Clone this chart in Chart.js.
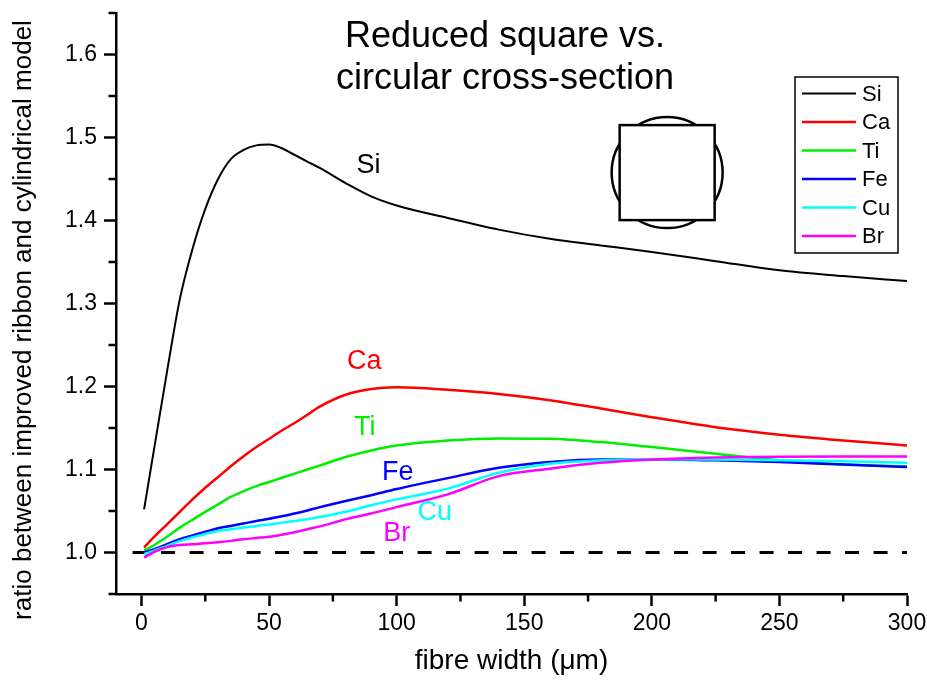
<!DOCTYPE html>
<html lang="en">
<head>
<meta charset="UTF-8">
<title>Reduced square vs. circular cross-section</title>
<script src="https://cdn.jsdelivr.net/npm/chart.js"></script>
<style>
    html, body { margin: 0; padding: 0; background: #fff; }
    .chart-box { width: 927px; height: 682px; position: relative; }
</style>
</head>
<body>
<div class="chart-box"><canvas id="ratioChart"></canvas></div>
<script>
// fibre width in micrometres, shared by all series
const fibreWidth = [1, 5, 10, 15, 20, 25, 30, 35, 40, 45, 50, 55, 60, 65, 70, 80, 90, 100, 120, 140, 160, 180, 200, 225, 250, 275, 300];

const ratioSi = [1.052, 1.126, 1.218, 1.305, 1.366, 1.414, 1.450, 1.474, 1.485, 1.4905, 1.4915, 1.487, 1.479, 1.471, 1.463, 1.445, 1.429, 1.418, 1.403, 1.389, 1.378, 1.370, 1.362, 1.351, 1.340, 1.333, 1.327];
const ratioCa = [1.006, 1.019, 1.034, 1.049, 1.064, 1.078, 1.091, 1.104, 1.116, 1.127, 1.137, 1.147, 1.156, 1.166, 1.176, 1.190, 1.197, 1.199, 1.196, 1.191, 1.1835, 1.1735, 1.163, 1.151, 1.142, 1.135, 1.129];
const ratioTi = [1.002, 1.009, 1.019, 1.030, 1.0395, 1.049, 1.058, 1.067, 1.074, 1.080, 1.085, 1.090, 1.095, 1.100, 1.105, 1.115, 1.123, 1.129, 1.135, 1.1375, 1.137, 1.133, 1.127, 1.119, 1.111, 1.106, 1.104];
const ratioFe = [1.000, 1.004, 1.010, 1.016, 1.0206, 1.025, 1.0293, 1.032, 1.035, 1.038, 1.0406, 1.0437, 1.047, 1.0507, 1.0547, 1.062, 1.069, 1.0764, 1.0896, 1.102, 1.109, 1.112, 1.112, 1.111, 1.109, 1.106, 1.103];
const ratioCu = [0.998, 1.0023, 1.008, 1.0137, 1.0184, 1.0223, 1.026, 1.028, 1.030, 1.032, 1.0337, 1.036, 1.038, 1.040, 1.0427, 1.049, 1.057, 1.064, 1.077, 1.096, 1.107, 1.111, 1.1125, 1.112, 1.111, 1.110, 1.108];
const ratioBr = [0.994, 1.0007, 1.0065, 1.009, 1.010, 1.011, 1.0123, 1.014, 1.016, 1.0175, 1.019, 1.0215, 1.0245, 1.028, 1.0315, 1.040, 1.047, 1.0547, 1.070, 1.092, 1.101, 1.108, 1.112, 1.1145, 1.1155, 1.1156, 1.1156];

const seriesNames = ['Si', 'Ca', 'Ti', 'Fe', 'Cu', 'Br'];
const seriesValues = [ratioSi, ratioCa, ratioTi, ratioFe, ratioCu, ratioBr];
const seriesColors = ['#000000', '#ff0000', '#00ee00', '#0000ff', '#00ffff', '#ff00ff'];

// dashed line of ratio 1
const unityX = [-3.5, 300];
const unityY = [1, 1];

const xTickValues = [0, 50, 100, 150, 200, 250, 300];
const xMinorTicks = [25, 75, 125, 175, 225, 275];
const yTickValues = [1.0, 1.1, 1.2, 1.3, 1.4, 1.5, 1.6];
const yMinorTicks = [0.95, 1.05, 1.15, 1.25, 1.35, 1.45, 1.55, 1.65];

// text labels next to the curves (data coordinates)
const curveLabels = [
    { text: 'Si', x: 89, y: 1.466 },
    { text: 'Ca', x: 87.3, y: 1.2295 },
    { text: 'Ti', x: 87.5, y: 1.151 },
    { text: 'Fe', x: 100.4, y: 1.0966 },
    { text: 'Cu', x: 114.9, y: 1.0483 },
    { text: 'Br', x: 100, y: 1.023 }
];

const FONT = "'Liberation Sans', Arial, sans-serif";
Chart.defaults.font.family = FONT;
Chart.defaults.color = '#000';

const datasets = seriesNames.map((name, i) => ({
    label: name,
    data: fibreWidth.map((x, j) => ({ x: x, y: seriesValues[i][j] })),
    borderColor: seriesColors[i],
    borderWidth: i === 0 ? 2 : 2.5,
    order: seriesNames.length - i,
    cubicInterpolationMode: 'monotone',
    pointRadius: 0
}));
datasets.push({
    label: 'unity',
    data: unityX.map((x, j) => ({ x: x, y: unityY[j] })),
    borderColor: '#000',
    borderWidth: 3,
    borderDash: [14, 14.5],
    order: 10,
    pointRadius: 0
});

const decorPlugin = {
    id: 'decor',
    afterDraw(chart) {
        const { ctx, chartArea, scales: { x, y } } = chart;
        ctx.save();

        // minor ticks
        ctx.strokeStyle = '#000';
        ctx.lineWidth = 2.5;
        xMinorTicks.forEach(v => {
            const px = x.getPixelForValue(v);
            ctx.beginPath();
            ctx.moveTo(px, chartArea.bottom);
            ctx.lineTo(px, chartArea.bottom + 7.5);
            ctx.stroke();
        });
        yMinorTicks.forEach(v => {
            const py = y.getPixelForValue(v);
            ctx.beginPath();
            ctx.moveTo(chartArea.left, py);
            ctx.lineTo(chartArea.left - 7.5, py);
            ctx.stroke();
        });

        // y axis title
        ctx.fillStyle = '#000';
        ctx.save();
        ctx.translate(31, 320);
        ctx.rotate(-Math.PI / 2);
        ctx.textAlign = 'center';
        ctx.textBaseline = 'alphabetic';
        ctx.font = '26px ' + FONT;
        ctx.fillText('ratio between improved ribbon and cylindrical model', 0, 0);
        ctx.restore();

        // title inside the plot
        ctx.textAlign = 'center';
        ctx.textBaseline = 'middle';
        ctx.font = '36px ' + FONT;
        ctx.fillText('Reduced square vs.', 505, 37);
        ctx.fillText('circular cross-section', 505, 79);

        // labels on curves
        ctx.font = '27px ' + FONT;
        curveLabels.forEach((lab, i) => {
            ctx.fillStyle = seriesColors[i];
            ctx.fillText(lab.text, x.getPixelForValue(lab.x), y.getPixelForValue(lab.y));
        });

        // circle behind a square of the same area
        const cx = x.getPixelForValue(206), cy = y.getPixelForValue(1.4577);
        ctx.lineWidth = 2.5;
        ctx.strokeStyle = '#000';
        ctx.beginPath();
        ctx.arc(cx, cy, 55.5, 0, Math.PI * 2);
        ctx.stroke();
        ctx.fillStyle = '#fff';
        ctx.fillRect(cx - 47.5, cy - 47.5, 95, 95);
        ctx.strokeRect(cx - 47.5, cy - 47.5, 95, 95);

        // legend box
        const bx = chartArea.right - 112, by = chartArea.top + 64;
        ctx.lineWidth = 1.5;
        ctx.strokeRect(bx, by, 103, 176);
        ctx.font = '22px ' + FONT;
        ctx.textAlign = 'left';
        seriesNames.forEach((name, i) => {
            const ry = by + 16.5 + i * 28.5;
            ctx.strokeStyle = seriesColors[i];
            ctx.lineWidth = i === 0 ? 2 : 2.5;
            ctx.beginPath();
            ctx.moveTo(bx + 7, ry);
            ctx.lineTo(bx + 61, ry);
            ctx.stroke();
            ctx.fillStyle = '#000';
            ctx.fillText(name, bx + 67, ry + 1);
        });
        ctx.restore();
    }
};

new Chart(document.getElementById('ratioChart'), {
    type: 'line',
    data: { datasets: datasets },
    options: {
        responsive: true,
        maintainAspectRatio: false,
        animation: false,
        layout: { padding: { left: 7, top: 13, right: 20, bottom: 4 } },
        plugins: {
            legend: { display: false },
            tooltip: { enabled: false }
        },
        scales: {
            x: {
                type: 'linear',
                min: -10,
                max: 300,
                afterBuildTicks: s => { s.ticks = xTickValues.map(v => ({ value: v })); },
                afterFit: s => { s.height = 84; s.paddingLeft = 0; s.paddingRight = 0; },
                grid: { drawOnChartArea: false, drawTicks: true, tickLength: 12, tickWidth: 2.5, tickColor: '#000' },
                border: { display: true, color: '#000', width: 2.5 },
                ticks: { font: { size: 23 }, padding: 4, maxRotation: 0, autoSkip: false },
                title: { display: true, text: 'fibre width (\u03bcm)', font: { size: 28 }, padding: { top: 0, bottom: 0 } }
            },
            y: {
                type: 'linear',
                min: 0.95,
                max: 1.65,
                afterBuildTicks: s => { s.ticks = yTickValues.map(v => ({ value: v })); },
                afterFit: s => { s.width = 109; s.paddingTop = 0; s.paddingBottom = 0; },
                grid: { drawOnChartArea: false, drawTicks: true, tickLength: 12, tickWidth: 2.5, tickColor: '#000' },
                border: { display: true, color: '#000', width: 2.5 },
                ticks: { font: { size: 23 }, padding: 7, autoSkip: false, callback: v => v.toFixed(1) },
                title: { display: false }
            }
        }
    },
    plugins: [decorPlugin]
});
</script>
</body>
</html>
